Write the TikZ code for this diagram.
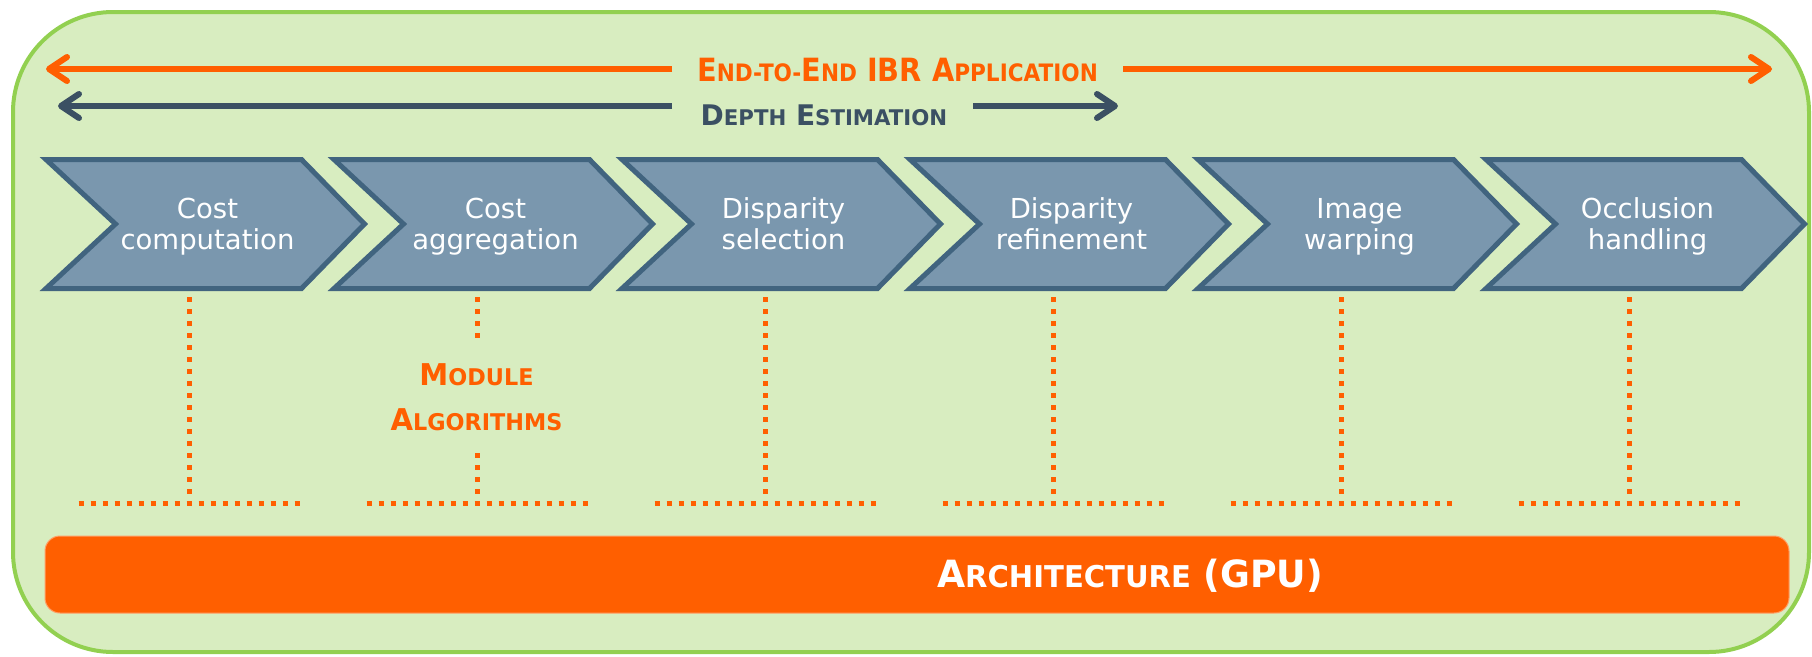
\documentclass[tikz,border=0pt]{standalone}
\usepackage{fontspec}
\usepackage{graphicx}
\setmainfont{DejaVu Sans}
\usetikzlibrary{arrows.meta}
\definecolor{bgG}{HTML}{D8EDC0}
\definecolor{brdG}{HTML}{92D050}
\definecolor{chevF}{HTML}{7A97AE}
\definecolor{chevD}{HTML}{41647F}
\definecolor{orgC}{HTML}{FF5F00}
\definecolor{darkC}{HTML}{3B5063}
\newcommand{\myfs}[2]{{\fontsize{#1pt}{#1pt}\selectfont #2}}
\newcommand{\chtxt}[2]{\rule{0pt}{21pt}#1\\#2\rule[-6pt]{0pt}{6pt}}
\begin{document}
\begin{tikzpicture}[x=1pt,y=-1pt,
  chev/.style={fill=chevF, draw=chevD, line width=5pt, line join=miter},
  chevtxt/.style={text=white, align=center, font=\fontsize{27.5pt}{31pt}\selectfont, inner sep=0pt},
  dots/.style={draw=orgC, line width=5pt, dash pattern=on 5pt off 7pt},
  oarrow/.style={draw=orgC, line width=6pt, -{Straight Barb[length=18pt,width=24pt,round]}},
  darrow/.style={draw=darkC, line width=6pt, -{Straight Barb[length=18pt,width=24pt,round]}},
  title/.style={anchor=base, inner sep=0pt, font=\bfseries},
]
\useasboundingbox (0,0) rectangle (1812,656);
\draw[fill=bgG, draw=brdG, line width=4pt, rounded corners=100pt] (13,12) rectangle (1809,652);

% top arrows
\node[title, text=orgC] (etitle) at (897.5,81) {\scalebox{0.9}[1]{\myfs{32}{E}\myfs{24}{ND-TO-}\myfs{32}{E}\myfs{24}{ND}\myfs{32}{ IBR A}\myfs{24}{PPLICATION}}};
\node[title, text=darkC] (dtitle) at (824,125) {\scalebox{0.985}[1]{\myfs{28.4}{D}\myfs{21.6}{EPTH}\myfs{28.4}{ E}\myfs{21.6}{STIMATION}}};
\coordinate (oL) at (46,69);
\coordinate (oR) at (1772,69);
\coordinate (oGL) at (672,69);
\coordinate (oGR) at (1123,69);
\coordinate (dL) at (58,106);
\coordinate (dR) at (1118,106);
\coordinate (dGL) at (672,106);
\coordinate (dGR) at (973,106);
\draw[oarrow] (oGL) -- (oL);
\draw[oarrow] (oGR) -- (oR);
\draw[darrow] (dGL) -- (dL);
\draw[darrow] (dGR) -- (dR);

% chevrons
\foreach \i/\ta/\tb in {1/Cost/computation,2/Cost/aggregation,3/Disparity/selection,4/Disparity/refinement,5/Image/warping,6/Occlusion/handling}{
  \pgfmathsetmacro{\xa}{40+288*(\i-1)}
  \draw[chev] (\xa+6,159.5) -- (\xa+261.5,159.5) -- (\xa+324.5,224) -- (\xa+261.5,288.5) -- (\xa+6,288.5) -- (\xa+75.5,224) -- cycle;
  \node[chevtxt] (c\i) at (\xa+167.5,226) {\chtxt{\ta}{\tb}};
  \coordinate (v\i a) at (\xa+149,297);
  \coordinate (v\i b) at (\xa+149,505);
  \coordinate (h\i l) at (\xa+38.5,503);
  \coordinate (h\i r) at (\xa+259.5,503);
  \draw[dots] (h\i l) -- (h\i r);
}
\foreach \i in {1,3,4,5,6}{\draw[dots] (v\i a) -- (v\i b);}
\coordinate (v2m) at (477,339);
\coordinate (v2n) at (477,453);
\draw[dots] (v2a) -- (v2m);
\draw[dots] (v2n) -- (v2b);
\node[text=orgC, align=center, inner sep=0pt, font=\bfseries\fontsize{30pt}{45pt}\selectfont] (modalg) at (476.5,397.5)
  {\scalebox{0.97}[1]{\myfs{30}{M}\myfs{23}{ODULE}}\\\scalebox{0.97}[1]{\myfs{30}{A}\myfs{23}{LGORITHMS}}};

% architecture bar
\node[fill=orgC, draw=orgC!60!white, line width=1pt, rounded corners=15pt, minimum width=1744pt, minimum height=77pt, inner sep=0pt] (gpubar) at (917,574.5) {};
\node[title, text=white] (gputext) at (1130,587) {\scalebox{0.97}[1]{\myfs{37.5}{A}\myfs{30}{RCHITECTURE}\myfs{37.5}{ (GPU)}}};
\end{tikzpicture}
\end{document}
